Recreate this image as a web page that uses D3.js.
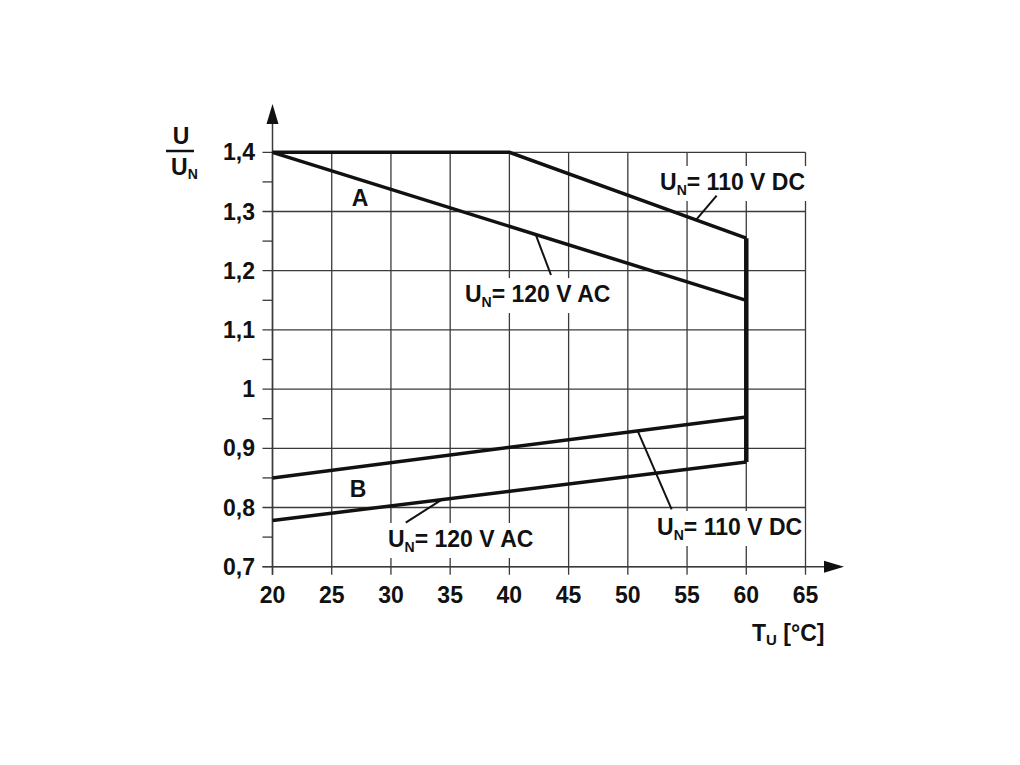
<!DOCTYPE html>
<html><head><meta charset="utf-8">
<script src="https://cdn.jsdelivr.net/npm/d3@7"></script>
<style>
html,body{margin:0;padding:0;background:#fff;}
svg{display:block;font-family:"Liberation Sans",Arial,Helvetica,sans-serif;font-weight:bold;}
</style></head>
<body>
<svg id="chart" width="1020" height="765"></svg>
<script>
// ---- data ----
const xTicks = [20, 25, 30, 35, 40, 45, 50, 55, 60, 65];
const yTicks = [0.7, 0.8, 0.9, 1.0, 1.1, 1.2, 1.3, 1.4];
const yTickLabels = ["0,7", "0,8", "0,9", "1", "1,1", "1,2", "1,3", "1,4"];
const yMinorTicks = [0.75, 0.85, 0.95, 1.05, 1.15, 1.25, 1.35];

const upperDC_T = [20, 40, 60];
const upperDC_U = [1.4, 1.4, 1.255];
const upperAC_T = [20, 60];
const upperAC_U = [1.4, 1.15];
const lowerDC_T = [20, 60];
const lowerDC_U = [0.85, 0.953];
const lowerAC_T = [20, 60];
const lowerAC_U = [0.778, 0.877];

const annotations = [
  {text: "110 V DC", tx: 52.72, ty: 1.3363, ax: 55.76, ay: upperDC_U[1] + (upperDC_U[2]-upperDC_U[1])*(55.76-40)/20, lx: 57.5, ly: 1.3267},
  {text: "120 V AC", tx: 36.25, ty: 1.147, ax: 42.22, ay: 1.4 + (1.15-1.4)*(42.22-20)/40, lx: 43.51, ly: 1.1927},
  {text: "110 V DC", tx: 52.47, ty: 0.7535, ax: 50.83, ay: 0.85 + (0.953-0.85)*(50.83-20)/40, lx: 53.7, ly: 0.797},
  {text: "120 V AC", tx: 29.75, ty: 0.7333, ax: 34.29, ay: 0.778 + (0.877-0.778)*(34.29-20)/40, lx: 31.25, ly: 0.7743}
];
const regionLabels = [{t: "A", x: 27.39, y: 1.3227}, {t: "B", x: 27.22, y: 0.8313}];

// ---- scales ----
const svg = d3.select("#chart");
const x = d3.scaleLinear().domain([20, 65]).range([272.5, 805.5]);
const y = d3.scaleLinear().domain([0.7, 1.4]).range([566.7, 152.3]);
const gridColor = "#3a3a3a";
const FS = 23;

// grid
const g = svg.append("g");
g.selectAll(".vg").data(xTicks).join("line")
  .attr("x1", d => x(d)).attr("x2", d => x(d))
  .attr("y1", y(1.4)).attr("y2", y(0.7) + 8)
  .attr("stroke", gridColor).attr("stroke-width", 1.3);
g.selectAll(".hg").data(yTicks).join("line")
  .attr("x1", x(20) - 10).attr("x2", x(65))
  .attr("y1", d => y(d)).attr("y2", d => y(d))
  .attr("stroke", gridColor).attr("stroke-width", 1.3);
g.selectAll(".mt").data(yMinorTicks).join("line")
  .attr("x1", x(20) - 10).attr("x2", x(20))
  .attr("y1", d => y(d)).attr("y2", d => y(d))
  .attr("stroke", gridColor).attr("stroke-width", 1.3);

// axes lines + arrows
g.append("line").attr("x1", x(20)).attr("x2", x(20)).attr("y1", 120).attr("y2", y(0.7) + 8)
  .attr("stroke", gridColor).attr("stroke-width", 1.5);
g.append("line").attr("x1", x(20) - 10).attr("x2", 828).attr("y1", y(0.7)).attr("y2", y(0.7))
  .attr("stroke", gridColor).attr("stroke-width", 1.5);
svg.append("path").attr("d", `M${x(20)},104 L${x(20)-6},124 L${x(20)+6},124 Z`).attr("fill", "#111");
svg.append("path").attr("d", `M844,${y(0.7)} L824,${y(0.7)-6} L824,${y(0.7)+6} Z`).attr("fill", "#111");

// tick labels
svg.selectAll(".xl").data(xTicks).join("text")
  .attr("x", d => x(d)).attr("y", 603).attr("text-anchor", "middle")
  .attr("font-size", FS).attr("fill", "#111").text(d => d);
svg.selectAll(".yl").data(yTicks).join("text")
  .attr("x", 255).attr("y", d => y(d) + 8).attr("text-anchor", "end")
  .attr("font-size", FS).attr("fill", "#111").text((d, i) => yTickLabels[i]);

// data lines
const line = d3.line().x(d => x(d[0])).y(d => y(d[1]));
const zip = (a, b) => a.map((v, i) => [v, b[i]]);
const series = [zip(upperDC_T, upperDC_U), zip(upperAC_T, upperAC_U), zip(lowerDC_T, lowerDC_U), zip(lowerAC_T, lowerAC_U)];
svg.selectAll(".ser").data(series).join("path")
  .attr("d", line).attr("fill", "none").attr("stroke", "#111").attr("stroke-width", 3.5)
  .attr("stroke-linejoin", "miter");
// vertical limit at max temperature
const tMax = d3.max(upperDC_T);
svg.append("path").attr("d", line([[tMax, upperDC_U[upperDC_U.length-1]], [tMax, lowerAC_U[lowerAC_U.length-1]]]))
  .attr("stroke", "#111").attr("stroke-width", 4.5).attr("fill", "none");

// annotations
annotations.forEach(a => {
  const ag = svg.append("g");
  const t = ag.append("text").attr("x", x(a.tx)).attr("y", y(a.ty)).attr("font-size", FS).attr("fill", "#111");
  t.append("tspan").text("U");
  t.append("tspan").attr("font-size", 14).attr("dy", 5).text("N");
  t.append("tspan").attr("dy", -5).text("= " + a.text);
  const bb = t.node().getBBox();
  ag.insert("rect", "text").attr("x", bb.x - 6).attr("y", bb.y - 3).attr("width", bb.width + 8).attr("height", bb.height + 6)
    .attr("fill", "#fff");
  svg.append("line").attr("x1", x(a.ax)).attr("y1", y(a.ay)).attr("x2", x(a.lx)).attr("y2", y(a.ly))
    .attr("stroke", "#111").attr("stroke-width", 2);
});

regionLabels.forEach(r => {
  svg.append("text").attr("x", x(r.x)).attr("y", y(r.y) + 8).attr("text-anchor", "middle")
    .attr("font-size", FS).attr("fill", "#111").text(r.t);
});

// y axis title (fraction)
svg.append("text").attr("x", 181).attr("y", 144).attr("text-anchor", "middle").attr("font-size", FS).attr("fill", "#111").text("U");
svg.append("line").attr("x1", 166).attr("x2", 194).attr("y1", 151).attr("y2", 151).attr("stroke", "#111").attr("stroke-width", 2.5);
const yt = svg.append("text").attr("x", 171).attr("y", 175).attr("font-size", FS).attr("fill", "#111");
yt.append("tspan").text("U");
yt.append("tspan").attr("font-size", 14).attr("dy", 4).text("N");

// x axis title
const xt = svg.append("text").attr("x", 752).attr("y", 641).attr("font-size", FS).attr("fill", "#111");
xt.append("tspan").text("T");
xt.append("tspan").attr("font-size", 15).attr("dy", 4).text("U");
xt.append("tspan").attr("dy", -4).text(" [°C]");
</script>
</body></html>
